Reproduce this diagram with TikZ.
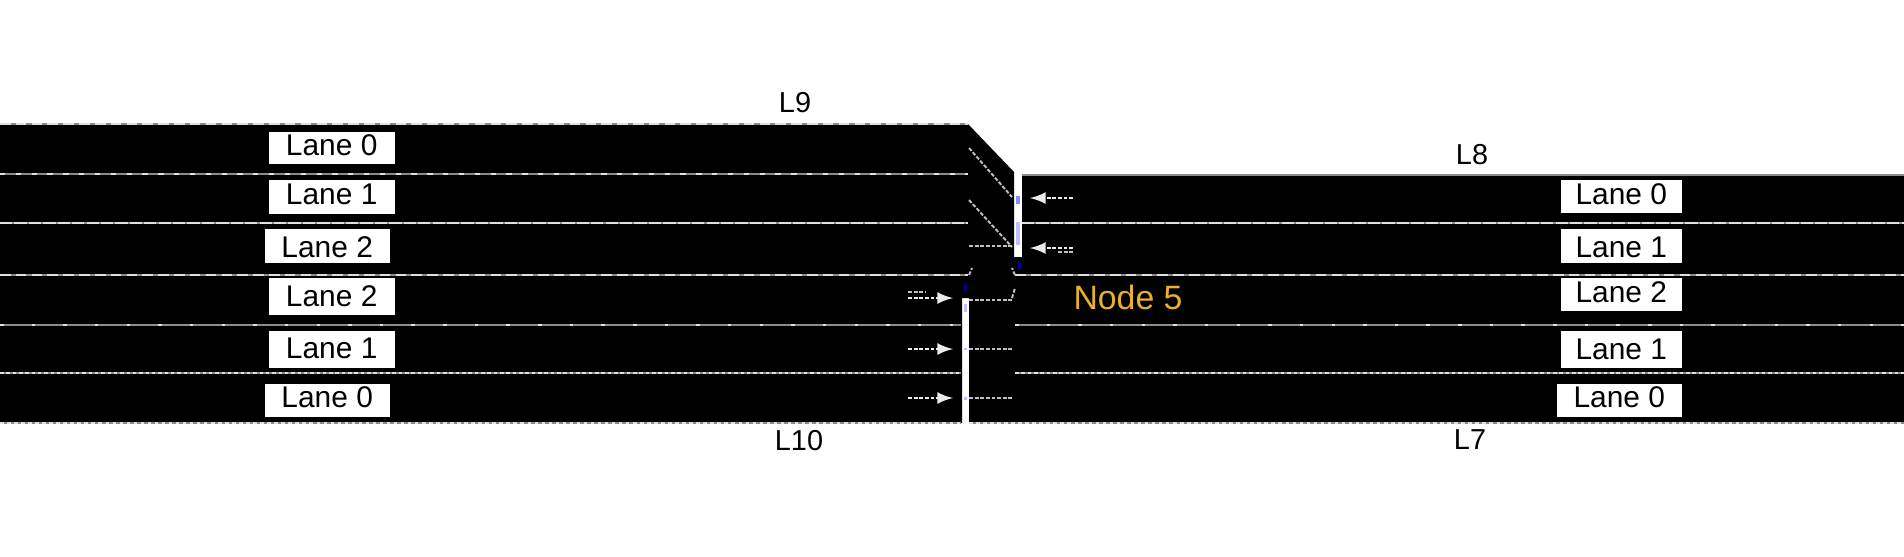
\documentclass[tikz,border=0pt]{standalone}
\usepackage{fontspec}
\setmainfont{Liberation Sans}
\usetikzlibrary{arrows}
\definecolor{nodeorange}{HTML}{E8B030}
\tikzset{
  >=latex,
  {road/.style} ={fill=black,draw=none},
  {base line/.style} ={draw=white!55!black,line width=0.7pt},
  {lane mark/.style} ={draw=white!88!black,line width=0.7pt,dash pattern=#1},
  {lanebox/.style} ={rectangle,fill=white,inner sep=0,anchor=north west,
                     font=\fontsize{8.5}{10}\selectfont},
  {roadlabel/.style} ={font=\fontsize{8.2}{10}\selectfont},
  {movement/.style} ={draw=white!75!black,line width=0.55pt,dash pattern=on 1.1pt off .5pt},
  {lane arrow/.style} ={movement,->,>=latex,draw=white!92!black},
  {signal/.style} ={draw=blue!45!white,line width=1pt},
}
\begin{document}
\begin{tikzpicture}[x=0.01cm,y=-0.01cm]
\useasboundingbox (0,0) rectangle (1904,556);
\fill[road] (0,124) -- (968,124) -- (1014,172) -- (1014,257) -- (1022,257)
  -- (1022,175) -- (1904,175) -- (1904,423) -- (969,423) -- (969,298)
  -- (962,298) -- (962,423) -- (0,423) -- cycle;
% lane lines, left and right of the junction
\foreach \y/\xa/\xb/\pat in {124/0/968/on 3pt off 1.5pt,174/0/968/on 1.5pt off 3pt,
    223/0/968/{on 3.5pt off .6pt},275/0/968/{on 3pt off 1.5pt},325/0/961/{on 1pt off 8pt},
    373/0/961/{on 1pt off .8pt},423/0/961/{on 1pt off 1pt},
    223/1022/1904/{on 3.5pt off .6pt},275/1015/1904/{on 3pt off 1.5pt},325/1015/1904/{on 1pt off 8pt},
    373/1015/1904/{on 1pt off .8pt},423/969/1904/{on 1pt off 1pt}}
  {\draw[base line] (\xa,\y) -- (\xb,\y);
   \draw[lane mark/.expand once=\pat] (\xa,\y) -- (\xb,\y);}
\draw[base line] (1022,175) -- (1904,175);
% movements through the junction
\draw[movement] (969,148) -- (1012,197);
\draw[movement] (969,200) -- (1012,247);
\draw[movement] (969,246) -- (1012,246);
\draw[movement] (969,275) -- (972,268);
\draw[movement] (1015,275) -- (1012,268);
\draw[movement] (1012,298) -- (1015,288);
\foreach \y in {300,349,398}
  \draw[movement] (969,\y) -- (1013,\y);
\foreach \y in {298,349,398}
  \draw[lane arrow] (908,\y) -- (953,\y);
\draw[movement] (908,292) -- (925,292);
\draw[lane arrow] (1073,198) -- (1030,198);
\draw[lane arrow] (1073,248) -- (1030,248);
\draw[movement] (1058,252) -- (1073,252);
% signals
\draw[signal] (1018,196) -- (1018,204);
\draw[signal,blue!25!white] (1018,222) -- (1018,245);
\draw[signal,blue!50!black] (1019,262) -- (1019,270);
\draw[signal,blue!50!black] (965.5,284) -- (965.5,291);
\draw[signal,blue!25!white] (965.5,304) -- (965.5,312);
\draw[signal,blue!25!white] (965.5,348) -- (965.5,350);
\draw[signal,blue!25!white] (965.5,397) -- (965.5,400);
% lane boxes
\foreach \n/\x/\y/\w/\h/\b/\t in {la/268/131/126/32/24/0,lb/268/179/126/34/25/1,
    lc/264/228/125/34/29/2,ld/268/277/126/37/29/2,le/268/330/126/37/28/1,lf/264/383/125/33/24/0,
    ra/1560/179/121/33/25/0,rb/1560/228/121/34/29/1,rc/1560/277/121/33/25/2,
    rd/1560/330/121/37/29/1,re/1556/383/125/33/24/0}
  \node[lanebox,minimum width=\w*0.01cm,text height=\b*0.01cm,text depth=(\h-\b)*0.01cm]
    (lane\n) at (\x,\y) {Lane \t};
\node[roadlabel] (road9) at (795,103) {L9};
\node[roadlabel] (road8) at (1472,155) {L8};
\node[roadlabel] (road10) at (799,441) {L10};
\node[roadlabel] (road7) at (1470,440) {L7};
\node[text=nodeorange,font=\fontsize{9.6}{11}\selectfont] (node5) at (1128,297) {Node 5};
\end{tikzpicture}
\end{document}
